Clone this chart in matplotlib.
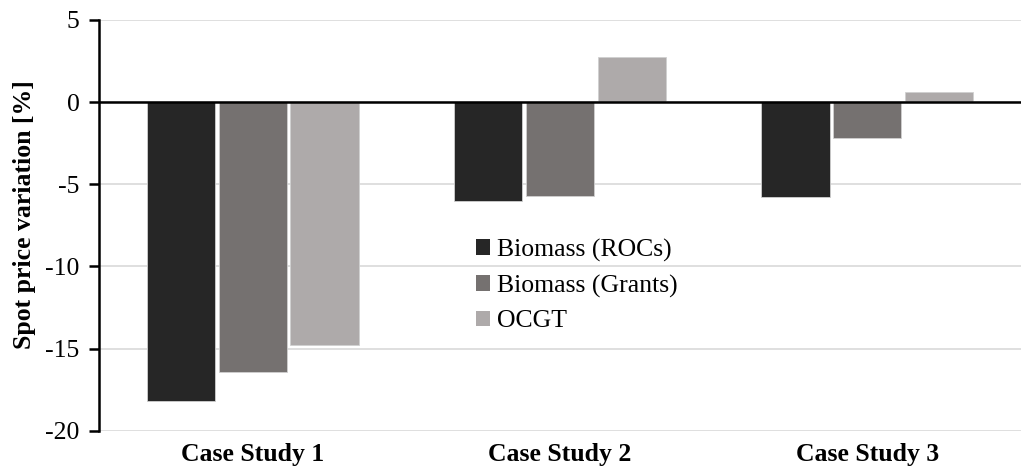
import numpy as np
import matplotlib.pyplot as plt

plt.rcParams['font.family'] = ['Liberation Serif', 'DejaVu Serif']
plt.rcParams['axes.unicode_minus'] = False

cases = ['Case Study 1', 'Case Study 2', 'Case Study 3']
series = ['Biomass (ROCs)', 'Biomass (Grants)', 'OCGT']
rocs = [-18.2, -6.0, -5.8]
grants = [-16.45, -5.7, -2.2]
ocgt = [-14.8, 2.75, 0.6]
colors = ['#262626', '#757170', '#aeaaaa']

fig = plt.figure(figsize=(10.21, 4.75), dpi=100)
ax = fig.add_axes([0.097, 0.093, 0.903, 0.865])

x = np.arange(len(cases))
w = 0.222
gap = 0.012
for i, (vals, lab) in enumerate(zip([rocs, grants, ocgt], series)):
    ax.bar(x + (i - 1) * (w + gap), vals, width=w, color=colors[i],
           edgecolor='#d0d0d0', linewidth=0.6, label=lab, zorder=3)

ax.set_xlim(-0.5, 2.5)
ax.set_ylim(-20, 5)
ax.set_yticks(np.arange(-20, 6, 5))
ax.grid(axis='y', color='#d9d9d9', linewidth=1.2, zorder=0)
ax.axhline(0, color='black', linewidth=1.8, zorder=4)

for s in ['top', 'right', 'bottom']:
    ax.spines[s].set_visible(False)
ax.spines['left'].set_linewidth(1.8)
ax.tick_params(axis='y', direction='out', length=7, width=1.8, labelsize=18.5, pad=7)
ax.tick_params(axis='x', length=0, labelsize=18.5, pad=9)
ax.set_xticks(x)
ax.set_xticklabels(cases, fontweight='bold')
ax.set_ylabel('Spot price variation [%]', fontsize=18.5, fontweight='bold')
ax.yaxis.set_label_coords(-0.068, 0.526)

leg = ax.legend(loc='upper left', bbox_to_anchor=(0.409, 0.468), frameon=False,
                fontsize=18.5, handlelength=0.55, handleheight=0.55, handletextpad=0.25,
                labelspacing=0.5, borderaxespad=0, borderpad=0)
for h in leg.legend_handles:
    h.set_edgecolor('none')

fig.savefig('out.png', dpi=100)
